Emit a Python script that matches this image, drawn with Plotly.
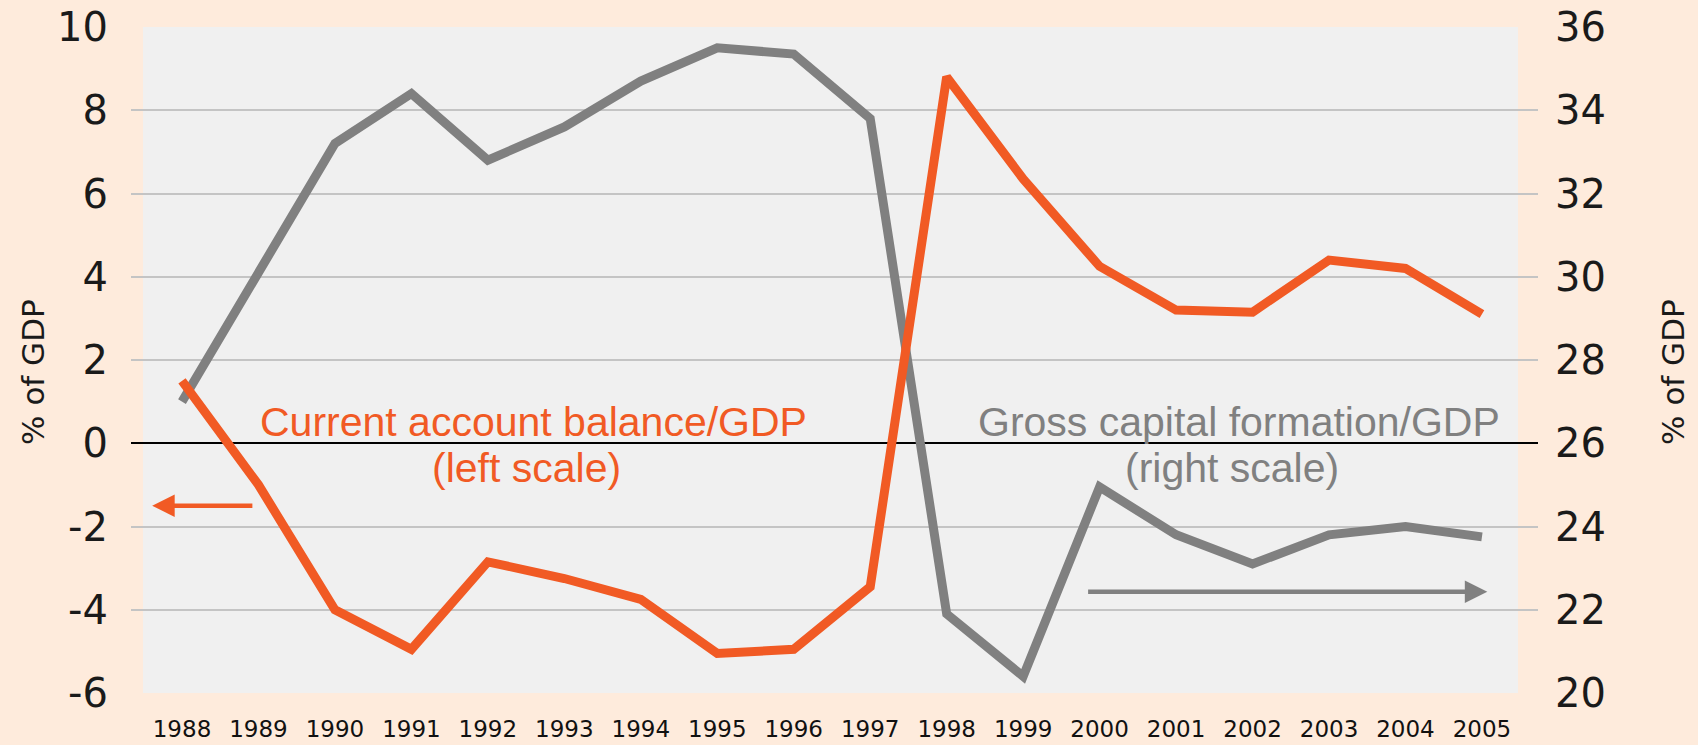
import plotly.graph_objects as go

years = list(range(1988, 2006))
current_account = [1.5, -1.0, -4.0, -4.95, -2.85, -3.25, -3.75, -5.05, -4.95, -3.45,
                   8.8, 6.35, 4.25, 3.2, 3.15, 4.4, 4.2, 3.1]
gross_capital = [27.0, 30.1, 33.2, 34.4, 32.8, 33.6, 34.7, 35.5, 35.35, 33.8,
                 21.9, 20.4, 24.95, 23.8, 23.1, 23.8, 24.0, 23.75]
left_ticks = [-6, -4, -2, 0, 2, 4, 6, 8, 10]
right_ticks = [20, 22, 24, 26, 28, 30, 32, 34, 36]

ORANGE = "#F15A24"
GRAY = "#808080"
PEACH = "#FEEBDC"
PLOTBG = "#F0F0F0"
GRID = "#C4C4C4"
TICKFONT = dict(family="DejaVu Sans", size=40, color="#1a1a1a")
TITLEFONT = dict(family="DejaVu Sans", size=31, color="#1a1a1a")
ANNFONT = "Liberation Sans, Arial, sans-serif"

fig = go.Figure()
fig.add_trace(go.Scatter(x=years, y=gross_capital, mode="lines", yaxis="y",
                         line=dict(color=GRAY, width=9), showlegend=False))
fig.add_trace(go.Scatter(x=years, y=current_account, mode="lines", yaxis="y2",
                         line=dict(color=ORANGE, width=9), showlegend=False))

fig.update_layout(
    width=1698, height=745,
    paper_bgcolor=PEACH, plot_bgcolor=PEACH,
    margin=dict(l=131, r=160, t=27, b=52, autoexpand=False),
    xaxis=dict(range=[1988 - 0.667, 2005 + 0.733], tickvals=years,
               ticktext=[str(y) for y in years], showgrid=False, zeroline=False,
               showline=False, ticks="", tickfont=dict(family="DejaVu Sans", size=23, color="#111"),
               ticklabelstandoff=20),
    yaxis=dict(side="right", range=[20, 36], tickvals=right_ticks,
               ticktext=[str(v) for v in right_ticks], showgrid=False,
               zeroline=False, showline=False, ticks="", tickfont=TICKFONT,
               ticklabelstandoff=16),
    yaxis2=dict(side="left", overlaying="y", range=[-6, 10], tickvals=left_ticks,
                ticktext=[str(v) for v in left_ticks],
                showgrid=True, gridcolor=GRID, gridwidth=2,
                zeroline=True, zerolinecolor="#000000", zerolinewidth=2,
                showline=False, ticks="", tickfont=TICKFONT, ticklabelstandoff=22),
    shapes=[dict(type="rect", xref="paper", yref="paper", x0=12 / 1407, x1=1387 / 1407,
                 y0=0, y1=1, fillcolor=PLOTBG, line=dict(width=0), layer="below")],
)

# axis titles
for xp in (-0.0697, 1.0959):
    fig.add_annotation(x=xp, y=0.482, xref="paper", yref="paper", text="% of GDP",
                       textangle=-90, showarrow=False, font=TITLEFONT,
                       xanchor="center", yanchor="middle")

anns = [
    dict(x=1992.60, y=0.51, text="Current account balance/GDP", color=ORANGE),
    dict(x=1992.51, y=-0.59, text="(left scale)", color=ORANGE),
    dict(x=2001.82, y=0.51, text="Gross capital formation/GDP", color=GRAY),
    dict(x=2001.73, y=-0.59, text="(right scale)", color=GRAY),
]
for a in anns:
    fig.add_annotation(x=a["x"], y=a["y"], xref="x", yref="y2", text=a["text"],
                       showarrow=False, font=dict(family=ANNFONT, size=41, color=a["color"]),
                       xanchor="center", yanchor="middle")

fig.add_annotation(x=1987.61, y=-1.5, ax=1988.94, ay=-1.5, xref="x", yref="y2",
                   axref="x", ayref="y2", text="", showarrow=True, arrowhead=2,
                   arrowwidth=4.5, arrowsize=1.0, arrowcolor=ORANGE)
fig.add_annotation(x=2005.07, y=-3.57, ax=1999.83, ay=-3.57, xref="x", yref="y2",
                   axref="x", ayref="y2", text="", showarrow=True, arrowhead=2,
                   arrowwidth=4.5, arrowsize=1.0, arrowcolor=GRAY)

fig.write_html("out.html", config={"displayModeBar": False},
               post_script="document.body.style.margin='0';document.body.style.overflow='hidden';")
